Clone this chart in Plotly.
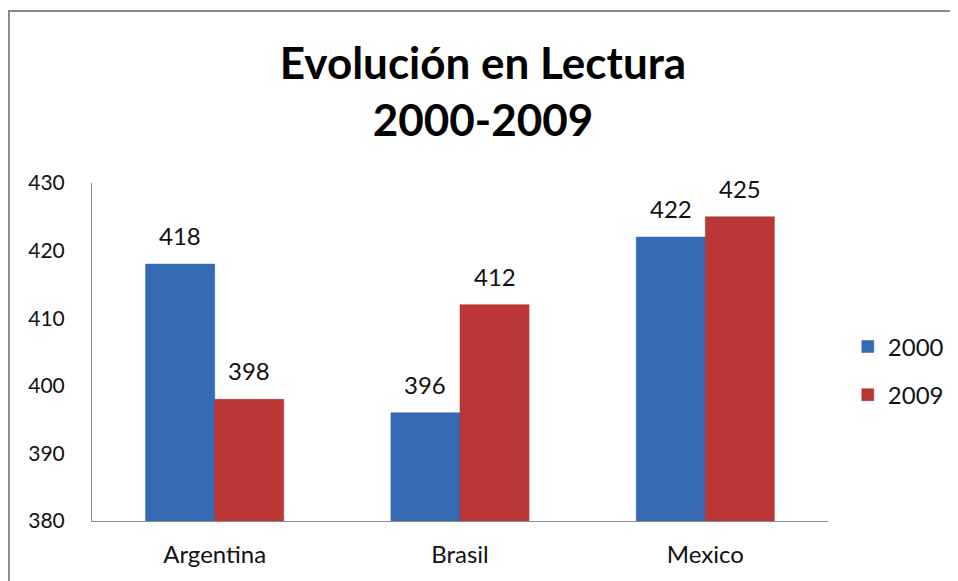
import plotly.graph_objects as go

categories = ["Argentina", "Brasil", "Mexico"]
series_names = ["2000", "2009"]
values_2000 = [418, 396, 422]
values_2009 = [398, 412, 425]
y_ticks = [380, 390, 400, 410, 420, 430]

FONT = "Lato"
colors = {"2000": "#356bb4", "2009": "#bb3636"}
line_colors = {"2000": "#2f5f9f", "2009": "#a52f2f"}

W, H = 950, 573
L, R, T, B = 84, 130, 175, 60
BARGAP = 0.437
plot_w = W - L - R
bar_px = plot_w / len(categories) * (1 - BARGAP) / 2

fig = go.Figure()
annotations = []
for i, (name, vals) in enumerate(zip(series_names, [values_2000, values_2009])):
    fig.add_trace(go.Bar(
        x=categories, y=vals, name=name,
        marker=dict(color=colors[name], line=dict(color=line_colors[name], width=0.5)),
        legendgroup=name,
    ))
    shift = (i - 0.5) * bar_px
    for c, v in zip(categories, vals):
        annotations.append(dict(x=c, y=v, xref="x", yref="y", text=str(v),
                                showarrow=False, xshift=shift, yshift=12,
                                yanchor="bottom", xanchor="center",
                                font=dict(family=FONT, size=24, color="#111111")))

fig.update_layout(
    width=W, height=H,
    paper_bgcolor="white", plot_bgcolor="white",
    margin=dict(l=L, r=R, t=T, b=B, autoexpand=False),
    barmode="group", bargap=BARGAP, bargroupgap=0,
    font=dict(family=FONT, size=22, color="#111111"),
    title=dict(text="<b>Evolución en Lectura<br>2000-2009</b>",
               font=dict(family=FONT, size=44, color="#000000"),
               x=0.5, xanchor="center", y=0.876, yanchor="middle"),
    xaxis=dict(showline=True, linecolor="#8c8c8c", linewidth=1, ticks="",
               showgrid=False, tickfont=dict(size=24), ticklabelstandoff=12),
    yaxis=dict(range=[380, 430], tickvals=y_ticks, showline=True, linecolor="#8c8c8c",
               linewidth=1, showgrid=False, zeroline=False, ticks="",
               tickfont=dict(size=21), ticklabelstandoff=22),
    legend=dict(xref="container", x=0.884, xanchor="left", y=0.444, yanchor="middle",
                font=dict(size=24), tracegroupgap=14, traceorder="grouped",
                itemwidth=30),
    showlegend=True,
    annotations=annotations,
    shapes=[dict(type="rect", xref="paper", yref="paper",
                 x0=-0.1128, x1=1.25, y0=-0.3, y1=1.509,
                 line=dict(color="#8c8c8c", width=2), fillcolor="rgba(0,0,0,0)")],
)

fig.write_html("out.html")
